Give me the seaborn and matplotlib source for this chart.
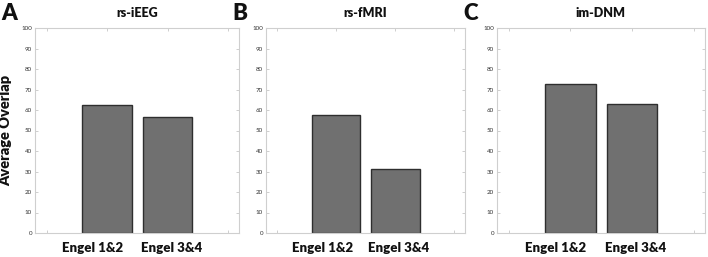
import numpy as np
import matplotlib
matplotlib.use("Agg")
import matplotlib.pyplot as plt
import pandas as pd
import seaborn as sns

sns.set_theme(style="white")
plt.rcParams['font.family'] = ['Lato', 'DejaVu Sans']

# values
groups = ["Engel 1&2", "Engel 3&4"]
panel_titles = ["rs-iEEG", "rs-fMRI", "im-DNM"]
panel_letters = ["A", "B", "C"]
rs_ieeg = [62.6, 56.4]
rs_fmri = [57.7, 31.2]
im_dnm = [72.8, 62.8]
yticks = list(range(0, 101, 10))

values = [rs_ieeg, rs_fmri, im_dnm]

fig = plt.figure(figsize=(7.08, 2.57), dpi=100)
W, H = 708, 257
# axes boxes in pixels: left, right (top 28, bottom 233)
boxes = [(35, 239), (266, 465), (497, 705)]
top, bottom = 28, 233

for i, (l, r) in enumerate(boxes):
    ax = fig.add_axes([l / W, 1 - bottom / H, (r - l) / W, (bottom - top) / H])
    df = pd.DataFrame({"group": groups, "overlap": values[i]})
    sns.barplot(data=df, x="group", y="overlap", ax=ax, color="#707070",
                width=0.82, edgecolor="#2e2e2e", linewidth=1.0, saturation=1)
    ax.set_xlim(-1.19, 2.18)
    ax.set_ylim(0, 100)
    ax.set_xticks([-1, 0, 1, 2])
    ax.set_xticklabels([])
    # group labels, sitting a little left of the bar centres as in the reference
    for k, (g, dx) in enumerate(zip(groups, [-0.24, 0.06])):
        ax.text(k + dx, -0.045, g, transform=ax.get_xaxis_transform(),
                ha="center", va="top", fontsize=9.5, fontweight="heavy",
                color="#111111")
    ax.set_yticks(yticks)
    ax.set_yticklabels([str(t) for t in yticks], fontsize=4.5, color="#333333")
    ax.tick_params(axis="both", direction="in", length=2, width=0.5,
                   color="#bbbbbb", top=True, right=True, bottom=True, left=True)
    ax.tick_params(axis="y", pad=2)
    for s in ax.spines.values():
        s.set_color("#cfcfcf")
        s.set_linewidth(0.8)
    ax.set_xlabel("")
    if i == 0:
        ax.set_ylabel("Average Overlap", fontsize=10.5, fontweight="heavy",
                      color="#111111")
        ax.yaxis.set_label_coords(-0.11, 0.5)
    else:
        ax.set_ylabel("")
    ax.set_title(panel_titles[i], fontsize=9, fontweight="heavy",
                 color="#111111", pad=8)
    fig.text((l - 35) / W + 1 / W, 1 - 13 / H, panel_letters[i], fontsize=16,
             fontweight="heavy", color="#111111", va="center", ha="left")

fig.savefig("out.png", dpi=100)
